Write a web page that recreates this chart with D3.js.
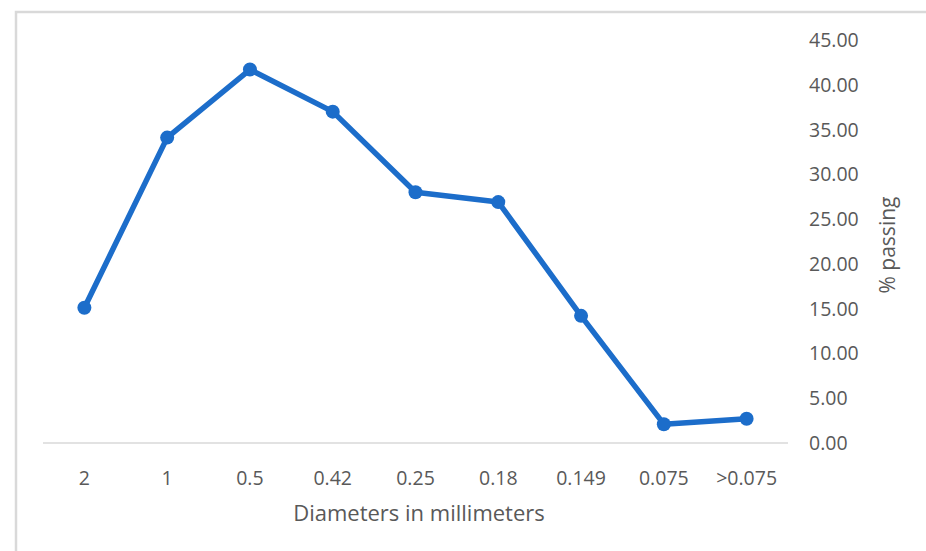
<!DOCTYPE html>
<html>
<head>
<meta charset="utf-8">
<script src="https://cdn.jsdelivr.net/npm/d3@7"></script>
<style>
  body { margin: 0; background: #fff; overflow: hidden; }
  text { font-family: "Open Sans", "Noto Sans", sans-serif; fill: #595959; }
</style>
</head>
<body>
<div id="chart"></div>
<script>
const Width = 926;
const Height = 551;

// data
const diameters = ['2', '1', '0.5', '0.42', '0.25', '0.18', '0.149', '0.075', '>0.075'];
const passing = [15.1, 34.1, 41.7, 37.0, 28.0, 26.9, 14.2, 2.1, 2.7];
const yTicks = [0, 5, 10, 15, 20, 25, 30, 35, 40, 45];

const LineColor = '#1c6dca';

const svg = d3.select('#chart').
append('svg').
attr('width', Width).
attr('height', Height);

// chart frame (runs off the right and bottom edges)
svg.append('rect').
attr('x', 16).
attr('y', 12).
attr('width', Width + 20).
attr('height', Height + 20).
attr('fill', 'none').
attr('stroke', '#d9d9d9').
attr('stroke-width', 2.5);

const x = d3.scaleBand().
domain(diameters).
range([43, 788]);

const y = d3.scaleLinear().
domain([0, 45]).
range([443, 40]);

// baseline
svg.append('line').
attr('x1', 43).
attr('x2', 788).
attr('y1', y(0)).
attr('y2', y(0)).
attr('stroke', '#d9d9d9').
attr('stroke-width', 1.5);

// x tick labels
svg.selectAll('.xlabel').
data(diameters).
enter().
append('text').
attr('class', 'xlabel').
attr('x', d => x(d) + x.bandwidth() / 2).
attr('y', 485).
attr('text-anchor', 'middle').
style('font-size', '19.5px').
text(d => d);

// y tick labels (right side)
svg.selectAll('.ylabel').
data(yTicks).
enter().
append('text').
attr('class', 'ylabel').
attr('x', 809).
attr('y', d => y(d)).
attr('dy', '0.36em').
style('font-size', '19.5px').
text(d => d.toFixed(2));

// axis titles
svg.append('text').
attr('x', 419).
attr('y', 521).
attr('text-anchor', 'middle').
style('font-size', '22px').
text('Diameters in millimeters');

svg.append('text').
attr('transform', 'translate(895,' + 245 + ') rotate(-90)').
attr('text-anchor', 'middle').
style('font-size', '21px').
text('% passing');

// line + markers
const line = d3.line().
x((d, i) => x(diameters[i]) + x.bandwidth() / 2).
y(d => y(d));

svg.append('path').
datum(passing).
attr('d', line).
attr('fill', 'none').
attr('stroke', LineColor).
attr('stroke-width', 5.5).
attr('stroke-linejoin', 'round');

svg.selectAll('.dot').
data(passing).
enter().
append('circle').
attr('class', 'dot').
attr('cx', (d, i) => x(diameters[i]) + x.bandwidth() / 2).
attr('cy', d => y(d)).
attr('r', 7).
attr('fill', LineColor);
</script>
</body>
</html>
